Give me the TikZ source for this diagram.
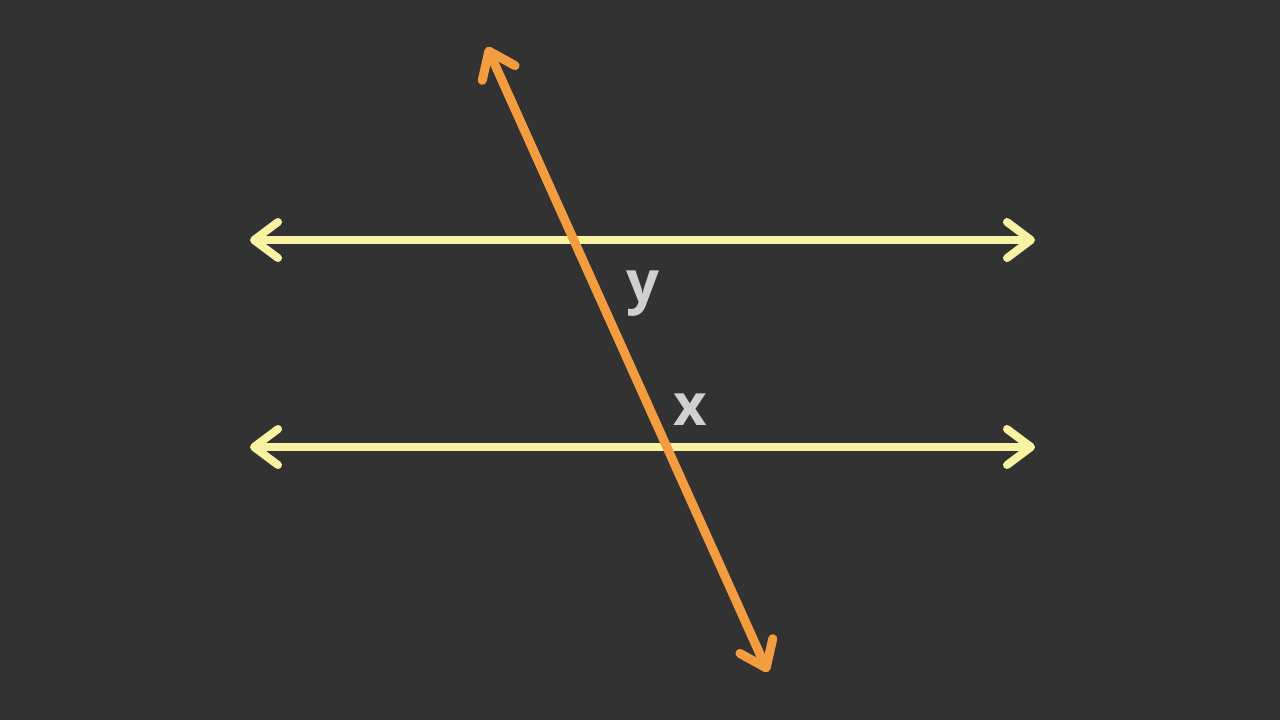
\documentclass[tikz,border=0pt]{standalone}
\usepackage{fontspec}
\setmainfont{Open Sans}
\usetikzlibrary{arrows.meta}
\definecolor{board}{HTML}{323232}
\definecolor{chalkyellow}{HTML}{F7F3A2}
\definecolor{chalkorange}{HTML}{F49C40}
\definecolor{chalkwhite}{HTML}{D0D0D0}
\tikzset{
  tipstyle/.tip={Straight Barb[length=12pt, width=18pt, round]},
  yline/.style={draw=chalkyellow, line width=4pt, line cap=round, tipstyle-tipstyle},
  oline/.style={draw=chalkorange, line width=4.5pt, line cap=round, tipstyle-tipstyle},
  anglelabel/.style={text=chalkwhite, font=\bfseries\fontsize{29}{30}\selectfont, inner sep=0pt}
}
\begin{document}
\begin{tikzpicture}[x=0.5pt,y=-0.5pt]
  \fill[board] (0,0) rectangle (1280,720);
  \useasboundingbox (0,0) rectangle (1280,720);
  \coordinate (a1) at (250,240);
  \coordinate (a2) at (1035,240);
  \coordinate (b1) at (250,447);
  \coordinate (b2) at (1035,447);
  \coordinate (t1) at (487,47);
  \coordinate (t2) at (768,672);
  \draw[yline] (a1) -- (a2);
  \draw[yline] (b1) -- (b2);
  \draw[oline] (t1) -- (t2);
  \node[anglelabel] (y) at (643,294) {y};
  \node[anglelabel] (x) at (690,410) {x};
\end{tikzpicture}
\end{document}
